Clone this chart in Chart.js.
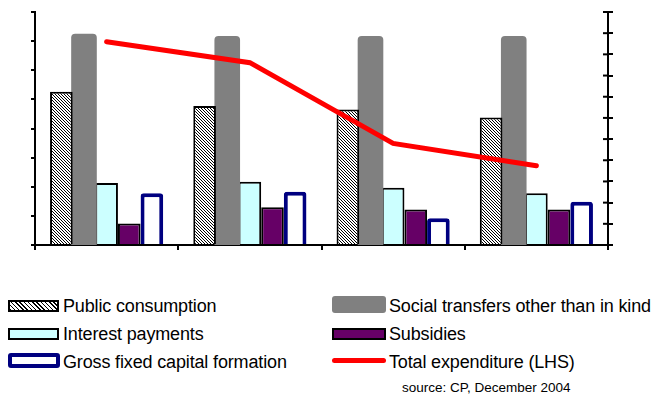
<!DOCTYPE html>
<html>
<head>
<meta charset="utf-8">
<script src="https://cdn.jsdelivr.net/npm/chart.js@4"></script>
<style>
  html, body { margin: 0; padding: 0; background: #fff; }
  #wrap { position: relative; width: 655px; height: 396px; font-family: Arial, "Liberation Sans", sans-serif; }
  #chartBox { position: absolute; left: 0; top: 0; width: 655px; height: 260px; }
  .key { position: absolute; box-sizing: border-box; }
  .lbl { position: absolute; font-size: 18px; color: #000; line-height: 20px; white-space: nowrap; letter-spacing: -0.15px; }
  #source { position: absolute; left: 402px; top: 380px; font-size: 13.5px; line-height: 16px; white-space: nowrap; }
</style>
</head>
<body>
<div id="wrap">
  <div id="chartBox"><canvas id="spendChart" width="655" height="260"></canvas></div>

  <!-- legend, left column -->
  <div class="key" style="left:8px;top:300px;width:51px;height:12px;border:2px solid #000;background:repeating-linear-gradient(45deg,#000 0 1px,#fff 1px 3px);"></div>
  <div class="lbl" style="left:63px;top:296px;">Public consumption</div>
  <div class="key" style="left:8px;top:328px;width:51px;height:12px;border:2px solid #000;background:#ccffff;"></div>
  <div class="lbl" style="left:63px;top:324px;">Interest payments</div>
  <div class="key" style="left:8px;top:353px;width:52px;height:15px;border:4px solid #000080;border-radius:3px;background:#fff;"></div>
  <div class="lbl" style="left:63px;top:352px;">Gross fixed capital formation</div>

  <!-- legend, right column -->
  <div class="key" style="left:332px;top:296px;width:54px;height:17px;border-radius:3px;background:#808080;"></div>
  <div class="lbl" style="left:389px;top:296px;">Social transfers other than in kind</div>
  <div class="key" style="left:332px;top:328px;width:54px;height:12px;border:2px solid #000;background:#660066;"></div>
  <div class="lbl" style="left:389px;top:324px;">Subsidies</div>
  <div class="key" style="left:332px;top:358px;width:54px;height:5px;border-radius:3px;background:#ff0000;"></div>
  <div class="lbl" style="left:389px;top:352px;">Total expenditure (LHS)</div>

  <div id="source">source: CP, December 2004</div>
</div>

<script>
// Categories (axis labels are not shown)
const periods = ['1', '2', '3', '4'];

// Bar series, right-hand axis
const publicConsumption = [7.23, 6.56, 6.4, 6.02];
const socialTransfers = [9.9, 9.8, 9.8, 9.8];
const interestPayments = [2.93, 2.99, 2.7, 2.44];
const subsidies = [1.02, 1.78, 1.68, 1.68];
const grossFixedCapital = [2.44, 2.51, 1.26, 2.04];

// Line series, left-hand axis
const totalExpenditure = [6.98, 6.26, 3.49, 2.72];

// Axis ranges (no tick labels drawn)
const leftRange = [0, 8];
const rightRange = [0, 11];

// Fine diagonal hatch for the public consumption bars
function makeHatch() {
    const c = document.createElement('canvas');
    c.width = 3;
    c.height = 3;
    const g = c.getContext('2d');
    g.fillStyle = '#fff';
    g.fillRect(0, 0, 3, 3);
    g.fillStyle = '#000';
    for (let i = 0; i < 3; i++) g.fillRect(i, i, 1, 1);
    return g.createPattern(c, 'repeat');
}

// Right axis ticks cross the axis line, so add the inner half
const innerTicks = {
    id: 'innerTicks',
    afterDraw(chart) {
        const s = chart.scales.yR;
        const ctx = chart.ctx;
        ctx.save();
        ctx.strokeStyle = '#000';
        ctx.lineWidth = 2;
        s.ticks.forEach(t => {
            const y = s.getPixelForValue(t.value);
            ctx.beginPath();
            ctx.moveTo(s.left - 5, y);
            ctx.lineTo(s.left, y);
            ctx.stroke();
        });
        ctx.restore();
    }
};

function hiddenAxis(extra) {
    return Object.assign({
        ticks: { display: false },
        grid: { drawOnChartArea: false, color: '#000', lineWidth: 2, tickLength: 5 },
        border: { color: '#000', width: 2 }
    }, extra);
}

const barBase = {
    type: 'bar',
    yAxisID: 'yR',
    order: 1,
    borderSkipped: 'start',
    barPercentage: 1.0,
    categoryPercentage: 0.79
};

new Chart(document.getElementById('spendChart'), {
    type: 'bar',
    data: {
        labels: periods,
        datasets: [
            Object.assign({}, barBase, {
                label: 'Public consumption',
                data: publicConsumption,
                backgroundColor: makeHatch(),
                borderColor: '#000',
                borderWidth: 2
            }),
            Object.assign({}, barBase, {
                label: 'Social transfers other than in kind',
                data: socialTransfers,
                backgroundColor: '#808080',
                borderWidth: 0,
                borderRadius: 4,
                inflateAmount: 1.5
            }),
            Object.assign({}, barBase, {
                label: 'Interest payments',
                data: interestPayments,
                backgroundColor: '#ccffff',
                borderColor: '#000',
                borderWidth: 2
            }),
            Object.assign({}, barBase, {
                label: 'Subsidies',
                data: subsidies,
                backgroundColor: '#660066',
                borderColor: '#000',
                borderWidth: 2
            }),
            Object.assign({}, barBase, {
                label: 'Gross fixed capital formation',
                data: grossFixedCapital,
                backgroundColor: '#fff',
                borderColor: '#000080',
                borderWidth: 4,
                borderRadius: 3
            }),
            {
                type: 'line',
                label: 'Total expenditure (LHS)',
                data: totalExpenditure,
                yAxisID: 'yL',
                order: 0,
                borderColor: '#ff0000',
                borderWidth: 5,
                borderCapStyle: 'round',
                borderJoinStyle: 'miter',
                pointRadius: 0,
                tension: 0
            }
        ]
    },
    options: {
        responsive: false,
        animation: false,
        layout: { padding: { left: 31, right: 42, top: 12, bottom: 10 } },
        plugins: {
            legend: { display: false },
            tooltip: { enabled: false }
        },
        scales: {
            x: hiddenAxis({
                afterFit(scale) { scale.height = 5; }
            }),
            yL: hiddenAxis({
                position: 'left',
                min: leftRange[0],
                max: leftRange[1],
                ticks: { display: false, stepSize: 1 },
                grid: { drawOnChartArea: false, color: '#000', lineWidth: 2, tickLength: 4 },
                afterFit(scale) { scale.width = 4; }
            }),
            yR: hiddenAxis({
                position: 'right',
                min: rightRange[0],
                max: rightRange[1],
                ticks: { display: false, stepSize: 1 },
                afterFit(scale) { scale.width = 5; }
            })
        }
    },
    plugins: [innerTicks]
});
</script>
</body>
</html>
